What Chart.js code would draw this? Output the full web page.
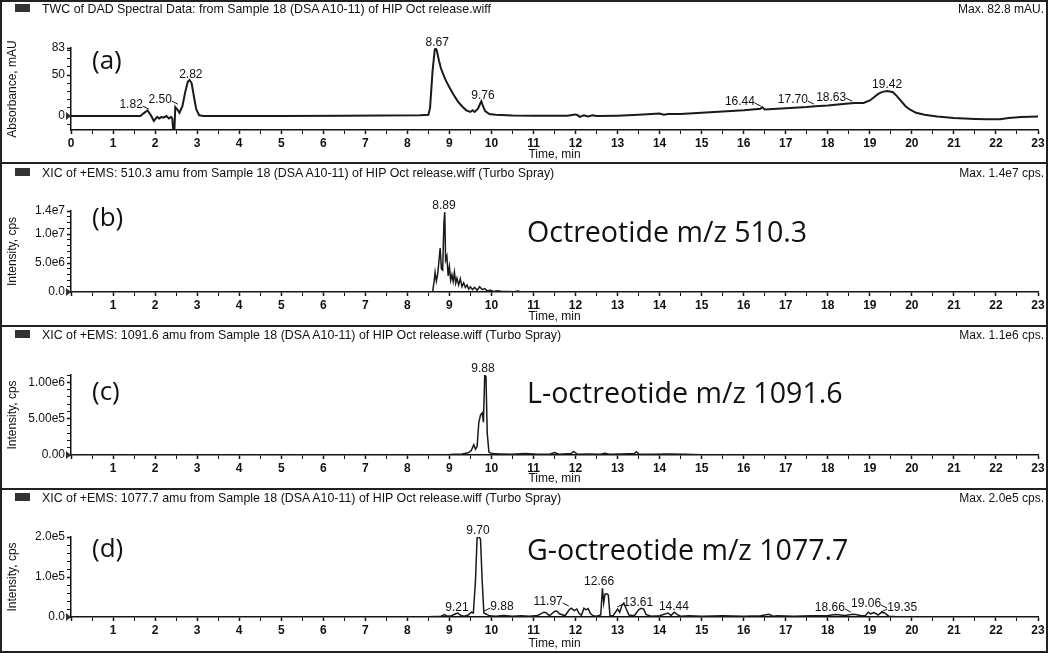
<!DOCTYPE html>
<html><head><meta charset="utf-8">
<script src="https://cdn.jsdelivr.net/npm/chart.js@4.4.0/dist/chart.umd.min.js"></script>
<style>
html,body{margin:0;padding:0;background:#fff;}
#wrap{position:relative;width:1050px;height:654px;overflow:hidden;font-family:"Liberation Sans",Arial,sans-serif;color:#111;}
canvas{position:absolute;left:0;}
.title{position:absolute;left:42px;font-size:12.4px;line-height:12px;white-space:nowrap;}
.max{position:absolute;right:6px;font-size:12px;line-height:12px;white-space:nowrap;}
.sq{position:absolute;left:15px;width:15px;height:8px;background:#333;}
.big{position:absolute;left:527px;font-family:"Open Sans",sans-serif;font-size:28.6px;line-height:28px;white-space:nowrap;}
.tag{position:absolute;left:92px;font-family:"Open Sans",sans-serif;font-size:26px;line-height:26px;white-space:nowrap;}
.rule{position:absolute;background:#222;}
</style>
</head><body>
<div id="wrap"></div>
<script>
// ---------------- DATA ----------------
const timeTicks = [0,1,2,3,4,5,6,7,8,9,10,11,12,13,14,15,16,17,18,19,20,21,22,23];

const panelTitles = [
  "TWC of DAD Spectral Data: from Sample 18 (DSA A10-11) of HIP Oct release.wiff",
  "XIC of +EMS: 510.3 amu from Sample 18 (DSA A10-11) of HIP Oct release.wiff (Turbo Spray)",
  "XIC of +EMS: 1091.6 amu from Sample 18 (DSA A10-11) of HIP Oct release.wiff (Turbo Spray)",
  "XIC of +EMS: 1077.7 amu from Sample 18 (DSA A10-11) of HIP Oct release.wiff (Turbo Spray)"
];
const panelMaxTexts = ["Max. 82.8 mAU.", "Max. 1.4e7 cps.", "Max. 1.1e6 cps.", "Max. 2.0e5 cps."];
const panelTags = ["(a)", "(b)", "(c)", "(d)"];
const panelNames = ["", "Octreotide m/z 510.3", "L-octreotide m/z 1091.6", "G-octreotide m/z 1077.7"];
const yTitles = ["Absorbance, mAU", "Intensity, cps", "Intensity, cps", "Intensity, cps"];

const yTicksA = [0, 50, 83];            const yTickLabelsA = ["0", "50", "83"];
const yTicksB = [0, 5e6, 1e7, 1.4e7];    const yTickLabelsB = ["0.0", "5.0e6", "1.0e7", "1.4e7"];
const yTicksC = [0, 5e5, 1e6];           const yTickLabelsC = ["0.00", "5.00e5", "1.00e6"];
const yTicksD = [0, 1e5, 2e5];           const yTickLabelsD = ["0.0", "1.0e5", "2.0e5"];

const yRangeA = [-17, 83];
const yRangeB = [0, 1.4e7];
const yRangeC = [0, 1.1e6];
const yRangeD = [0, 2.0e5];

// [time (min), absorbance (mAU)]
const traceA = [[0,0],[1.65,0],[1.72,3],[1.82,7],[1.9,1],[1.97,-6],[2.05,-1],[2.1,-3],[2.15,-1],[2.2,-2],[2.27,0],[2.33,-3],[2.38,-1],[2.41,-3],[2.43,-17],[2.46,-17],[2.48,11],[2.53,8],[2.58,4],[2.65,12],[2.72,30],[2.78,42],[2.82,44],[2.87,40],[2.93,22],[2.98,8],[3.05,1],[3.15,0],[5,0],[6.5,0.3],[8.3,1],[8.5,1.5],[8.54,10],[8.6,55],[8.65,80],[8.67,82.8],[8.7,80],[8.75,68],[8.8,58],[8.9,45],[9.0,35],[9.1,26],[9.2,18],[9.3,12],[9.4,7],[9.5,5],[9.55,7],[9.6,5],[9.68,9],[9.74,16],[9.76,18],[9.8,12],[9.85,6],[9.95,2.5],[10.1,1.5],[10.5,0.8],[11,0.5],[11.8,0.5],[12.0,2],[12.05,1],[12.1,-1],[12.2,1],[12.3,-0.5],[12.4,1],[12.5,0],[13,0.5],[13.5,1.5],[14,3],[14.1,1.5],[14.2,2.5],[14.5,2.5],[15,4],[15.5,5.5],[16,7],[16.4,9],[16.44,11],[16.5,8],[17,9.5],[17.5,11],[17.7,12],[18,13],[18.3,14.5],[18.63,16],[18.85,16],[19.0,19],[19.1,23],[19.2,27],[19.3,29.5],[19.42,30.5],[19.55,29],[19.65,24],[19.75,18],[19.85,12],[19.95,8],[20.1,4],[20.3,1.5],[20.6,-0.5],[21,-2.5],[21.5,-3.5],[21.8,-4],[22.1,-4],[22.3,-2.5],[22.6,-1],[23,-0.5]];

// [time (min), intensity (cps)]
const traceB = [[0,0],[8.6,0],[8.64,2000000],[8.66,3400000],[8.69,1900000],[8.72,3000000],[8.76,6000000],[8.78,7600000],[8.81,4000000],[8.84,3800000],[8.87,12000000],[8.89,13800000],[8.91,5500000],[8.94,6200000],[8.97,2800000],[9.0,4400000],[9.03,2000000],[9.06,3000000],[9.09,1800000],[9.12,3400000],[9.15,1500000],[9.18,2400000],[9.22,1200000],[9.26,2300000],[9.3,900000],[9.34,1600000],[9.38,800000],[9.42,1200000],[9.46,500000],[9.5,900000],[9.55,400000],[9.6,800000],[9.66,300000],[9.72,900000],[9.78,400000],[9.84,600000],[9.9,200000],[9.98,300000],[10.05,100000],[10.15,200000],[10.25,80000],[10.4,100000],[10.55,50000],[10.62,150000],[10.7,30000],[11,0],[23,0]];

const traceC = [[0,0],[8.9,0],[9.1,10000],[9.3,15000],[9.45,30000],[9.52,60000],[9.58,140000],[9.62,80000],[9.66,120000],[9.7,450000],[9.74,550000],[9.78,580000],[9.81,450000],[9.84,1100000],[9.87,1080000],[9.9,300000],[9.94,40000],[10.0,20000],[10.2,15000],[10.5,10000],[10.8,20000],[11.1,10000],[11.4,15000],[11.5,35000],[11.6,10000],[11.9,20000],[11.95,50000],[12.05,10000],[12.3,15000],[12.6,10000],[12.7,25000],[12.8,10000],[13.1,15000],[13.4,20000],[13.45,45000],[13.5,15000],[13.8,10000],[14.2,15000],[14.6,10000],[15,5000],[15.5,0],[23,0]];

const traceD = [[0,0],[8.5,500],[8.8,2000],[8.88,6000],[8.95,2000],[9.05,3000],[9.15,8000],[9.2,10000],[9.27,4000],[9.35,2000],[9.45,5000],[9.52,12000],[9.57,10000],[9.62,90000],[9.66,200000],[9.7,200000],[9.74,195000],[9.78,90000],[9.82,10000],[9.88,7000],[9.95,3000],[10.1,2000],[10.3,4000],[10.5,2000],[10.7,3000],[10.9,2000],[11.1,4000],[11.25,12000],[11.3,11000],[11.38,3000],[11.5,14000],[11.55,15000],[11.62,8000],[11.75,3000],[11.85,18000],[11.9,22000],[11.97,16000],[12.03,20000],[12.08,10000],[12.14,4000],[12.2,22000],[12.25,18000],[12.3,21000],[12.36,8000],[12.42,3000],[12.5,2000],[12.6,5000],[12.64,72000],[12.67,35000],[12.7,57000],[12.74,58000],[12.78,55000],[12.82,3000],[12.9,4000],[13.0,20000],[13.05,12000],[13.1,28000],[13.15,35000],[13.2,22000],[13.27,5000],[13.4,3000],[13.5,18000],[13.56,22000],[13.62,20000],[13.68,6000],[13.8,2000],[14.0,3000],[14.2,10000],[14.27,4000],[14.35,12000],[14.42,6000],[14.5,2000],[14.7,3000],[15,2000],[15.5,3000],[16,2000],[16.4,3000],[16.6,7000],[16.7,2000],[16.8,3000],[17.2,2000],[17.6,3000],[18,4000],[18.2,6000],[18.4,4000],[18.6,7000],[18.66,6000],[18.8,3000],[18.9,4000],[18.96,12000],[19.02,8000],[19.1,11000],[19.2,5000],[19.28,12000],[19.35,10000],[19.45,2000],[19.6,1000],[20,0],[23,0]];

// peak retention-time labels
const peakTimesA = [1.82, 2.50, 2.82, 8.67, 9.76, 16.44, 17.70, 18.63, 19.42];
const peakTimesB = [8.89];
const peakTimesC = [9.88];
const peakTimesD = [9.70, 9.21, 9.88, 11.97, 12.66, 13.61, 14.44, 18.66, 19.06, 19.35];

// ---------------- LAYOUT / STYLE ----------------
// label anchor [time, value, leader side]
const labelSpotsA = [[1.43,13.4,'r'],[2.12,19.5,'r'],[2.85,50,''],[8.71,89,''],[9.80,24.4,''],[15.91,17,'r'],[17.17,19.5,'r'],[18.08,23,'r'],[19.41,37.8,'']];
const labelSpotsB = [[8.87,15e6,'']];
const labelSpotsC = [[9.80,1.19e6,'']];
const labelSpotsD = [[9.68,2.15e5,''],[9.18,0.225e5,''],[10.25,0.25e5,'l'],[11.35,0.375e5,'r'],[12.56,0.875e5,''],[13.49,0.35e5,'l'],[14.34,0.25e5,''],[18.05,0.225e5,'r'],[18.91,0.325e5,'r'],[19.77,0.225e5,'l']];

const layout = [
  {top:0,   bottom:162, areaTop:48,  areaBottom:130, titleY:9,   tagY:61,  nameY:0,   xtPad:0, lw:2,   minor:10},
  {top:164, bottom:325, areaTop:211, areaBottom:292, titleY:173, tagY:218, nameY:232, xtPad:1, lw:1.5, minor:1e6},
  {top:327, bottom:488, areaTop:375, areaBottom:455, titleY:335, tagY:392, nameY:393, xtPad:2, lw:1.5, minor:1e5},
  {top:490, bottom:652, areaTop:537, areaBottom:617, titleY:498, tagY:549, nameY:550, xtPad:1, lw:1.5, minor:2e4}
];

const FONT = '"Liberation Sans", Arial, sans-serif';
const INK = '#111';

const traces = [traceA, traceB, traceC, traceD];
const yTicksAll = [yTicksA, yTicksB, yTicksC, yTicksD];
const yLabelsAll = [yTickLabelsA, yTickLabelsB, yTickLabelsC, yTickLabelsD];
const yRanges = [yRangeA, yRangeB, yRangeC, yRangeD];
const peakTimes = [peakTimesA, peakTimesB, peakTimesC, peakTimesD];
const labelSpots = [labelSpotsA, labelSpotsB, labelSpotsC, labelSpotsD];

const peakPlugin = {
  id: 'peaks',
  afterDatasetsDraw(chart, args, opts) {
    const {ctx} = chart; const x = chart.scales.x, y = chart.scales.y;
    ctx.save();
    ctx.font = '12px ' + FONT;
    ctx.fillStyle = INK; ctx.strokeStyle = INK; ctx.lineWidth = 1;
    ctx.textAlign = 'center'; ctx.textBaseline = 'middle';
    (opts.times || []).forEach((t, i) => {
      const s = opts.spots[i];
      const px = x.getPixelForValue(s[0]), py = y.getPixelForValue(s[1]);
      const txt = t.toFixed(2);
      ctx.fillText(txt, px, py);
      const w = ctx.measureText(txt).width / 2;
      if (s[2] === 'r') { ctx.beginPath(); ctx.moveTo(px + w, py + 1); ctx.lineTo(px + w + 6, py + 4); ctx.stroke(); }
      if (s[2] === 'l') { ctx.beginPath(); ctx.moveTo(px - w, py + 1); ctx.lineTo(px - w - 6, py + 4); ctx.stroke(); }
    });
    // zero marker
    const zy = y.getPixelForValue(0), lx = x.left;
    ctx.fillStyle = '#333';
    ctx.beginPath(); ctx.moveTo(lx - 5, zy - 4); ctx.lineTo(lx - 5, zy + 4); ctx.lineTo(lx, zy); ctx.closePath(); ctx.fill();
    ctx.restore();
  }
};

const wrap = document.getElementById('wrap');
function addDiv(cls, style, text) {
  const d = document.createElement('div'); d.className = cls;
  Object.assign(d.style, style); if (text) d.textContent = text; wrap.appendChild(d); return d;
}

layout.forEach((L, p) => {
  const h = L.bottom - L.top;
  const cv = document.createElement('canvas');
  cv.width = 1050; cv.height = h; cv.style.top = L.top + 'px'; cv.style.width = '1050px'; cv.style.height = h + 'px';
  wrap.appendChild(cv);

  const majors = yTicksAll[p], labels = yLabelsAll[p], rng = yRanges[p];
  const yTickObjs = majors.map(v => ({value: v, mj: true}));
  for (let k = Math.ceil(rng[0] / L.minor); k * L.minor <= rng[1] + 1e-9; k++) {
    const v = k * L.minor;
    if (majors.some(m => Math.abs(m - v) < L.minor * 0.3)) continue;
    yTickObjs.push({value: v, mj: false});
  }
  yTickObjs.sort((a, b) => a.value - b.value);
  const xTickObjs = [];
  for (let k = 0; k <= 46; k++) xTickObjs.push({value: k / 2, mj: k % 2 === 0});

  new Chart(cv, {
    type: 'line',
    data: { datasets: [{
      data: traces[p].map(q => ({x: q[0], y: q[1]})),
      borderColor: '#1a1a1a', borderWidth: L.lw, pointRadius: 0, tension: 0, fill: false
    }]},
    options: {
      responsive: false, animation: false, devicePixelRatio: 1, events: [],
      layout: { padding: { top: L.areaTop - L.top, right: 12, left: 0, bottom: 0 } },
      plugins: { legend: {display: false}, tooltip: {enabled: false},
        peaks: { times: peakTimes[p], spots: labelSpots[p] } },
      scales: {
        x: {
          type: 'linear', min: 0, max: 23,
          afterFit: s => { s.height = L.bottom - L.areaBottom; },
          afterBuildTicks: s => { s.ticks = xTickObjs.map(o => ({value: o.value, mj: o.mj})); },
          ticks: { autoSkip: false, maxRotation: 0, padding: 2, color: INK,
            font: {family: FONT, size: 12, weight: 'bold'},
            callback: (v) => { const i = timeTicks.indexOf(v); if (i < 0) return ''; if (p > 0 && v === 0) return ''; return String(timeTicks[i]); } },
          grid: { display: true, drawOnChartArea: false, drawTicks: true, tickLength: 4, tickColor: INK,
            tickWidth: c => (c.tick && c.tick.mj) ? 1.5 : 1 },
          border: { display: true, color: INK, width: 1.5 },
          title: { display: true, text: 'Time, min', color: INK, font: {family: FONT, size: 12}, padding: {top: 0, bottom: L.xtPad} }
        },
        y: {
          type: 'linear', min: rng[0], max: rng[1],
          afterFit: s => { s.width = 71; },
          afterBuildTicks: s => { s.ticks = yTickObjs.map(o => ({value: o.value, mj: o.mj})); },
          ticks: { autoSkip: false, padding: 2, color: INK, font: {family: FONT, size: 12},
            callback: (v) => { const i = majors.indexOf(v); return i < 0 ? '' : labels[i]; } },
          grid: { display: true, drawOnChartArea: false, drawTicks: true, tickLength: 4, tickColor: INK,
            tickWidth: c => (c.tick && c.tick.mj) ? 1.5 : 1 },
          border: { display: true, color: INK, width: 1.5 },
          title: { display: true, text: yTitles[p], color: INK, font: {family: FONT, size: 12}, padding: {top: 5, bottom: 0} }
        }
      }
    },
    plugins: [peakPlugin]
  });

  // header texts
  addDiv('sq', {top: (L.titleY - 5) + 'px'});
  addDiv('title', {top: (L.titleY - 6) + 'px'}, panelTitles[p]);
  addDiv('max', {top: (L.titleY - 6) + 'px'}, panelMaxTexts[p]);
  addDiv('tag', {top: (L.tagY - 15) + 'px'}, panelTags[p]);
  if (panelNames[p]) addDiv('big', {top: (L.nameY - 15) + 'px'}, panelNames[p]);
});

// frame rules
addDiv('rule', {left: '0px', top: '0px', width: '1048px', height: '2px'});
addDiv('rule', {left: '0px', top: '651px', width: '1048px', height: '2px'});
addDiv('rule', {left: '0px', top: '0px', width: '2px', height: '653px'});
addDiv('rule', {left: '1046px', top: '0px', width: '2px', height: '653px'});
[162, 325, 488].forEach(t => addDiv('rule', {left: '0px', top: t + 'px', width: '1048px', height: '2px'}));
</script>
</body></html>
